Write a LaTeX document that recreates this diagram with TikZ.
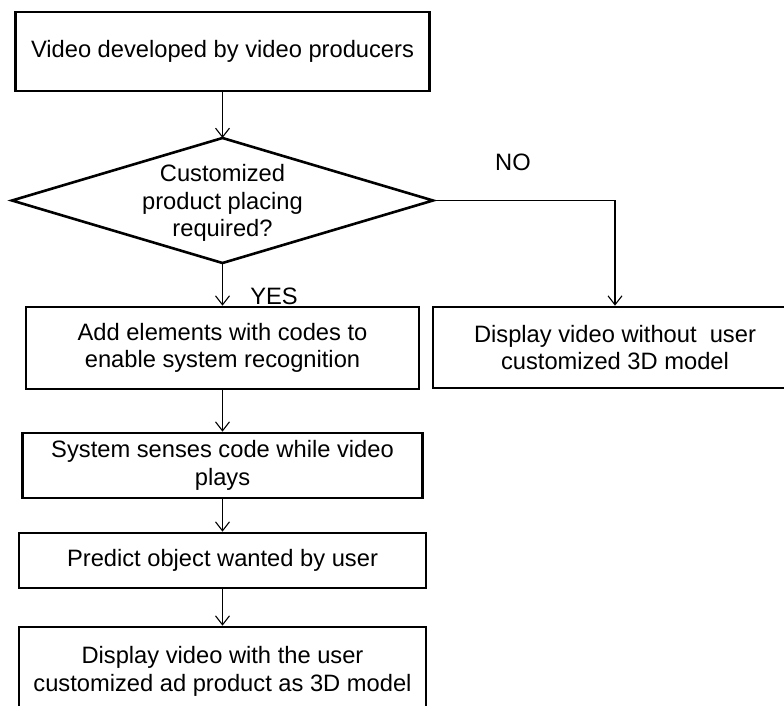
\documentclass[tikz,border=0pt]{standalone}
\usepackage{fontspec}
\setmainfont{Liberation Sans}
\usetikzlibrary{arrows.meta}
\begin{document}
\begin{tikzpicture}[x=1pt,y=-1pt,
  txt/.style={font=\fontsize{23.7}{27.5}\selectfont, align=center, inner sep=0pt},
  box/.style={txt, draw=black, line width=2.6pt, rectangle},
  conn/.style={draw=black, line width=1.1pt, -{Straight Barb[length=9pt,width=14pt,line width=1.1pt]}}
]
\useasboundingbox (0,0) rectangle (784,706);
\clip (0,0) rectangle (784,706);
\fill[white] (0,0) rectangle (784,706);

\node[box, minimum width=414pt, minimum height=79pt] (start) at (222.5,51.5) {Video developed by video producers};

% decision diamond
\coordinate (dtop) at (222.5,138);
\coordinate (dbot) at (222.5,263);
\coordinate (dleft) at (12,200.5);
\coordinate (dright) at (433,200.5);
\draw[black, line width=2.6pt, line join=miter] (dtop) -- (dright) -- (dbot) -- (dleft) -- cycle;
\node[txt] (dec) at (222.5,203) {Customized\\product placing\\required?};

\node[box, minimum width=393pt, minimum height=82pt] (add) at (222.5,348) {Add elements with codes to\\enable system recognition};
\node[box, minimum width=364pt, minimum height=81pt] (nobox) at (615,347.5) {Display video without~ user\\customized 3D model};
\node[box, minimum width=400pt, minimum height=65pt] (sense) at (222.5,465.5) {System senses code while video\\plays};
\node[box, minimum width=407pt, minimum height=55pt] (predict) at (222.5,560.5) {Predict object wanted by user};
\node[box, minimum width=407pt, minimum height=89pt] (show) at (222.5,671.5) {Display video with the user\\customized ad product as 3D model};

\node[txt] (nolabel) at (513,162) {NO};
\node[txt] (yeslabel) at (274,296) {YES};

\draw[conn] (start.south) -- (dtop);
\draw[conn] (dbot) -- (add.north);
\draw[conn] (dright) -| (nobox.north);
\draw[conn] (add.south) -- (sense.north);
\draw[conn] (sense.south) -- (predict.north);
\draw[conn] (predict.south) -- (show.north);
\end{tikzpicture}
\end{document}
